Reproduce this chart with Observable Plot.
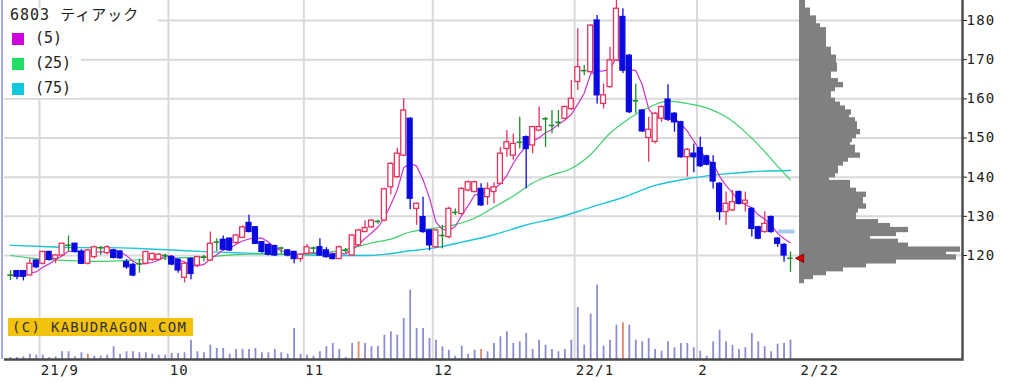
<!DOCTYPE html>
<html><head><meta charset="utf-8">
<script src="https://cdn.jsdelivr.net/npm/d3@7"></script>
<script src="https://cdn.jsdelivr.net/npm/@observablehq/plot@0.6"></script>
<style>
body{margin:0;background:#fff;}
#wrap{position:relative;width:1036px;height:382px;overflow:hidden;background:#fff;}
.abs{position:absolute;}
.mono{font-family:"DejaVu Sans Mono","Noto Sans CJK JP",monospace;color:#222;white-space:nowrap;}
</style></head><body>
<div id="wrap"></div>
<script>
// ---------- data ----------
const ticker = "6803 ティアック";
const maLabels = ["(5)", "(25)", "(75)"];
const copyright = "(C) KABUDRAGON.COM";

const yTicks = [120, 130, 140, 150, 160, 170, 180];
const monthIdx = [5, 25, 46, 66, 88, 107];
const monthLabels = ["21/9", "10", "11", "12", "22/1", "2"];
const lastLabel = "2/22";

const open = [
115,116,116,114.9,118.7,117.9,120.9,119.1,120,122.6,
123,121,117.9,119.6,122,120.6,121.3,121,118.3,117.6,
117.9,117.9,118.9,118.9,120,119.6,118.9,114.3,119.1,117.4,
119.6,118.7,123.4,124,124.3,123.2,124.5,128.3,127.2,123.4,
122.7,122.4,121.9,121.3,120.9,119.1,120.4,121.9,122.1,121.3,
120.2,119.1,121.3,120,122.6,126,127.2,128.7,128.9,137.4,
140,145.5,154.9,131.9,129.8,126.4,122.1,125.1,124.7,131,
130.6,136.6,136.2,137,134.9,136.2,138.3,147.2,145.5,148.9,
150.2,148.1,151.9,154.9,153.2,154,154.9,157.4,164.3,167.2,
166.8,180,158.7,163,169.8,180.9,171,159.5,157,150,
149,154.9,159.8,156.2,154,145.1,146,147.4,145.3,143.6,
138.3,131.1,131.5,136.2,133.2,131.9,127.2,126,129.8,124.3,
122.7,119.3];
const close = [
115,114.6,114.6,117.9,117,120.9,118.9,120,123,122.6,
120.9,117.9,121.3,122.1,122,122.1,119.4,119.3,117,114.9,
117.9,120.9,120.4,120.2,120,117.7,116.2,117.9,115.3,119.6,
119.6,123,123.4,121.5,121.3,125.1,127.2,126,123,120.9,
120.2,120,121.9,120,119.1,120.2,122.1,121.9,120,119.6,
119.1,122.1,121.3,125.1,126.4,127,128.9,128.7,136.9,143.4,
146,157,134.5,133.2,126,122.6,126.4,125.1,131.9,131,
137,138.7,138.7,132.8,137,137.4,146,148.9,148.5,148.9,
147.2,152.8,152.8,154.9,153.2,154,157.9,160,168.1,167.2,
178.7,160.9,160.9,169.8,183,167.2,156.6,159.5,151.7,152.1,
156.2,157.9,154.7,154,145.1,147,145.1,142.8,143.2,138.9,
131.1,133.2,133.6,133.2,134,126.8,124.3,128.1,126,123,
120,119.3];
const high = [
116.2,116.2,116.2,119.1,118.9,121.1,121.1,120.3,123.1,125,
123.1,121.5,121.6,122.4,122.3,122.5,121.6,121.3,119,118,
119.1,121.1,120.6,120.5,120.4,120,119.2,118.1,119.4,119.8,
120,126,124.3,125,124.5,125.4,127.6,130.3,127.4,123.6,
122.9,122.6,122.1,121.5,121.1,120.4,122.8,122.2,124.3,122,
120.5,122.4,121.8,125.3,126.7,128.9,129.1,129,137.2,143.7,
147.4,160,155.2,133.4,134.9,126.6,126.6,127.7,132.3,131.9,
137.3,139,139,138.3,138.5,138.5,147.6,151.9,151,155.3,
150.5,153,157.9,155.3,157,157,158.2,164.7,177.9,168.5,
179,181.3,163.8,173.2,185.1,183,171.3,163.8,157.3,155.3,
156.5,158.2,163.6,156.5,154.3,147.3,148.5,150.2,145.6,145.5,
138.6,136.2,136.6,136.5,136.2,132.2,127.5,131.2,130.1,124.6,
123,120.9];
const low = [
113.6,113.8,113.5,114.8,116.6,117.6,118.6,117.9,119.7,120.9,
120.6,117.7,117.6,119.2,120,120.2,119.1,119,116.5,114.6,
115.5,117.6,118.5,118.6,118.7,117.4,115.5,113,113.8,117,
118.4,118.5,121,121.2,121,122.9,124.3,125.8,122.8,120.6,
119.9,119.8,120.3,119.7,117.9,118.3,120.2,120.5,119.8,119.3,
118.9,118.9,120.5,119.8,122.3,125.8,127,128,128.6,135.5,
139.7,145.2,131.7,127.7,125.7,121.2,121.9,121.7,124.3,130.2,
130.3,136.3,136,132.5,132.8,133.2,138,145.1,144.3,147.2,
137,146,151.6,147.6,151.1,152.6,154.6,157,162.1,165.9,
166.5,158.7,157.4,162.7,169.5,166.5,156.2,156.2,151.4,143.8,
148.5,154,154.4,151.5,144.8,140,141.1,142.5,142.9,137,
128.9,127.7,131.2,132.9,131.1,124.7,124,125.7,125.7,122.1,
118.3,115.7];
const volume = [
20,20,27,53,43,43,20,27,77,77,
27,67,53,33,33,43,127,53,77,77,
67,67,53,43,43,60,60,67,193,77,
67,143,110,110,53,100,100,100,110,67,
67,100,67,53,310,53,43,33,77,127,
160,100,20,160,177,160,127,133,243,277,
243,410,693,310,310,210,193,127,93,33,
133,53,93,100,77,160,227,277,160,177,
260,100,193,143,100,77,100,193,520,143,
453,743,133,193,343,367,343,193,177,210,
100,83,177,117,160,160,117,83,33,177,
293,177,143,100,117,260,177,127,77,153,
160,193];
const highlightVol = [12, 54, 73, 95];

const ma25Idx = [0,4,9,14,19,24,30,35,39,45,50,53,56,59,62,66,69,72,75,78,81,84,87,90,93,96,99,102,105,108,111,114,117,119,121];
const ma25 = [120.0,119.2,118.7,118.5,118.8,119.3,119.6,120.2,120.4,120.3,121.0,121.9,123.2,124.2,126.0,127.0,127.9,129.5,132.3,135.2,138.5,140.6,142.2,145.8,151.2,155.0,157.8,159.4,158.8,157.7,155.4,151.5,146.5,142.8,139.3];
const ma75Idx = [0,5,10,15,20,25,30,35,40,45,50,55,58,62,66,70,75,80,85,90,95,100,105,110,115,121];
const ma75 = [122.6,122.3,122.0,122.0,121.8,121.4,121.0,120.7,120.4,120.2,120.0,120.0,120.3,121.2,122.0,123.4,125.3,127.8,129.7,132.3,134.8,137.9,139.6,140.7,141.4,141.7];

const profileLow = d3.range(113, 185);
const profileVol = [
5,14,27,44,67,97,157,147,161,109,
99,71,97,109,91,79,57,57,59,67,
64,64,67,57,51,51,30,36,39,39,
44,49,61,56,56,51,53,57,61,58,
58,56,50,52,46,41,36,32,32,36,
44,39,32,32,38,38,37,37,32,32,
27,27,27,27,27,21,17,17,11,11,
6,6];

const band = [{from: 119.1, to: 121.7, price: 126}];

// ---------- styles ----------
const C_UP = "#e8325e", C_DOWN = "#0a0ae0", C_FLAT = "#1e8c2a";
const C_MA = ["#cc33cc", "#3ccf6a", "#1ec4d8"];
const C_LEG = ["#cc00dd", "#22dd66", "#11c8dd"];
const GRID = "#d9d9d9";
const MONO = "DejaVu Sans Mono";

// ---------- build ----------
const candles = open.map((o, i) => ({i, open: o, high: high[i], low: low[i], close: close[i]}));
const kind = d => d.close > d.open ? "up" : d.close < d.open ? "down" : "flat";
const kColor = d => ({up: C_UP, down: C_DOWN, flat: C_FLAT})[kind(d)];
const vols = volume.map((v, i) => ({i, v}));
const hl = new Set(highlightVol);
const profile = profileLow.map((p, k) => ({p, v: profileVol[k]}));
const ma25Data = ma25Idx.map((i, k) => ({i, v: ma25[k]}));
const ma75Data = ma75Idx.map((i, k) => ({i, v: ma75[k]}));
const last = candles[candles.length - 1];

const W = 1036, H = 382;
const frame = {width: W, height: H, marginLeft: 4, marginRight: 74, marginTop: 0, marginBottom: 23};
const xS = {domain: [0, candles.length - 1], range: [10, 790], axis: null};
const yS = {domain: [120, 180], range: [255, 20], axis: null};
const st = {position: "absolute", left: "0px", top: "0px", background: "transparent", overflow: "visible"};

const wrap = document.getElementById("wrap");

// grid
wrap.appendChild(Plot.plot({...frame, style: st, x: xS, y: yS, marks: [
  Plot.ruleY(yTicks, {stroke: GRID, strokeWidth: 2}),
  Plot.ruleX(monthIdx, {x: d => d, dx: -3.2, stroke: GRID, strokeWidth: 2})
]}));

// price-by-volume profile
wrap.appendChild(Plot.plot({...frame, style: st,
  x: {domain: [0, 163], range: [799, 962], axis: null}, y: yS, marks: [
  Plot.rect(profile, {x1: 0, x2: "v", y1: "p", y2: d => d.p + 1, insetTop: -0.7, insetBottom: -0.7, fill: "#808080"})
]}));

// volume
wrap.appendChild(Plot.plot({...frame, style: st, x: xS,
  y: {domain: [0, 800], range: [359, 279], axis: null}, color: {type: "identity"}, marks: [
  Plot.ruleX(vols, {x: "i", y1: 0, y2: "v", stroke: d => hl.has(d.i) ? "#e0866c" : "#8c8cd2", strokeWidth: 1.8}),
  Plot.ruleY([0], {stroke: "#4a4a4a", strokeWidth: 2.5})
]}));

// left-pointing triangle symbol
const leftTri = {draw(ctx, size) { const r = Math.sqrt(size / Math.PI); ctx.moveTo(-r, 0); ctx.lineTo(r, -r); ctx.lineTo(r, r); ctx.closePath(); }};

// main: candles, MAs, axes
wrap.appendChild(Plot.plot({...frame, style: {...st, color: "#222", letterSpacing: "1.2px"}, x: xS, y: yS,
  color: {type: "identity"}, marks: [
  Plot.line(ma75Data, {x: "i", y: "v", stroke: C_MA[2], strokeWidth: 1.4, curve: "monotone-x"}),
  Plot.line(ma25Data, {x: "i", y: "v", stroke: C_MA[1], strokeWidth: 1.2, curve: "monotone-x"}),
  Plot.lineY(candles, Plot.windowY({k: 5, anchor: "end"}, {x: "i", y: "close", stroke: C_MA[0], strokeWidth: 1.2})),
  Plot.rect(band, {x1: "from", x2: "to", y1: d => d.price - 0.5, y2: d => d.price + 0.5, fill: "#a9c9ef"}),
  Plot.ruleX(candles, {x: "i", y1: "low", y2: "high", stroke: kColor, strokeWidth: 1.3}),
  Plot.rect(candles.filter(d => kind(d) !== "flat"), {x1: d => d.i - 0.38, x2: d => d.i + 0.38, y1: "open", y2: "close",
    fill: d => kind(d) === "up" ? "#ffffff" : C_DOWN, stroke: kColor, strokeWidth: 1.3}),
  Plot.ruleY(candles.filter(d => kind(d) === "flat"), {x1: d => d.i - 0.42, x2: d => d.i + 0.42, y: "open", stroke: C_FLAT, strokeWidth: 1.6}),
  Plot.dot([last], {x: "i", y: "close", symbol: leftTri, r: 4.2, dx: 9, fill: "#e00000", stroke: "#700000", strokeWidth: 0.8}),
  Plot.frame({anchor: "right", stroke: "#4d4d4d", strokeWidth: 2.5}),
  Plot.axisY(yTicks, {anchor: "right", tickSize: 4, tickPadding: 0, fontSize: 14, fontFamily: MONO, label: null, tickFormat: d => String(d)}),
  Plot.text(monthIdx, {x: d => d, text: (d, k) => monthLabels[k], frameAnchor: "bottom", dy: 11, dx: -2,
    textAnchor: "start", lineAnchor: "middle", fontSize: 14, fontFamily: MONO, fill: "#222"}),
  Plot.text([last.i], {x: d => d, text: () => lastLabel, frameAnchor: "bottom", dy: 11, dx: 10,
    textAnchor: "start", lineAnchor: "middle", fontSize: 14, fontFamily: MONO, fill: "#222"})
]}));

// ---------- HTML overlays: border, legend, copyright ----------
function div(css, text) { const e = document.createElement("div"); e.className = "abs"; e.style.cssText = css; if (text != null) e.textContent = text; wrap.appendChild(e); return e; }
div("left:1px;top:0;width:2px;height:359px;background:#a9a9e3;");
div("left:4px;top:8px;width:154px;height:16px;background:#fff;");
div("left:4px;top:24px;width:77px;height:74px;background:#fff;");
const t = div("left:10px;top:8px;font-size:15px;line-height:15px;letter-spacing:1px;", ticker); t.classList.add("mono");
maLabels.forEach((lab, k) => {
  div(`left:12px;top:${33 + 25 * k}px;width:12px;height:12px;background:${C_LEG[k]};`);
  const e = div(`left:35px;top:${31 + 25 * k}px;font-size:15px;line-height:15px;`, lab); e.classList.add("mono");
});
const cp = div("left:8px;top:318px;width:185px;height:18px;background:#f2c20e;");
const ct = document.createElement("div"); ct.className = "mono";
ct.style.cssText = "padding-left:4px;font-size:14px;line-height:18px;letter-spacing:1.3px;color:#333;";
ct.textContent = copyright; cp.appendChild(ct);
</script>
</body></html>
